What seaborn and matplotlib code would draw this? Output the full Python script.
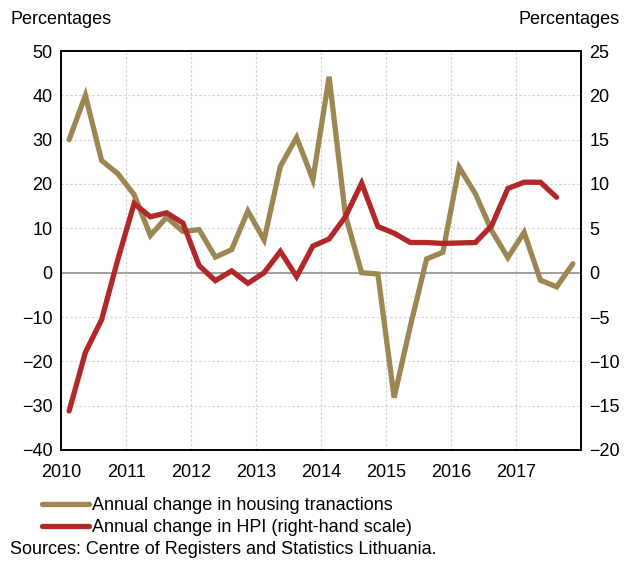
import matplotlib
matplotlib.use("Agg")
import matplotlib.pyplot as plt
import matplotlib.font_manager as fm
import numpy as np
import pandas as pd
import seaborn as sns

sns.set_theme(style="white")
names = {f.name for f in fm.fontManager.ttflist}
FONT = "Liberation Sans Narrow" if "Liberation Sans Narrow" in names else "Liberation Sans"
plt.rcParams["font.family"] = [FONT, "DejaVu Sans"]
plt.rcParams["text.color"] = "black"
plt.rcParams["xtick.color"] = "black"
plt.rcParams["ytick.color"] = "black"

# quarterly data, 2010 Q1 .. 2017 Q4
years = [2010, 2011, 2012, 2013, 2014, 2015, 2016, 2017]
quarters = [1, 2, 3, 4]

transactions = [30, 40, 25.3, 22.3,
                17.6, 8.4, 12.5, 9.3,
                9.7, 3.5, 5.2, 13.9,
                7.4, 24, 30.5, 21,
                44.2, 13, 0, -0.3,
                -28.2, -12, 3.1, 4.6,
                23.8, 17.8, 9.5, 3.4,
                9.1, -1.7, -3.2, 2.0]

hpi = [-15.6, -9.0, -5.3, 1.5,
       7.8, 6.3, 6.75, 5.6,
       0.8, -0.9, 0.2, -1.2,
       0.0, 2.4, -0.45, 3.0,
       3.8, 6.3, 10.1, 5.2,
       4.45, 3.4, 3.4, 3.3,
       3.35, 3.4, 5.3, 9.5,
       10.2, 10.2, 8.5, np.nan]

TAN = "#9C8652"
RED = "#B22828"

t = [y + (q - 0.5) / 4 for y in years for q in quarters]
df = pd.DataFrame({"t": t, "transactions": transactions, "hpi": hpi})

fig = plt.figure(figsize=(6.3, 5.66), dpi=100)
ax = fig.add_axes([61 / 630, 1 - 450 / 566, 520 / 630, 399 / 566])
ax2 = ax.twinx()

sns.lineplot(data=df, x="t", y="transactions", ax=ax, color=TAN, lw=3.8,
             solid_joinstyle="miter", label="Annual change in housing tranactions", legend=False)
sns.lineplot(data=df, x="t", y="hpi", ax=ax2, color=RED, lw=3.8,
             solid_joinstyle="miter", label="Annual change in HPI (right-hand scale)", legend=False)

ax.set_xlim(2010, 2018)
ax.set_ylim(-40, 50)
ax2.set_ylim(-20, 25)
ax.set_yticks(np.arange(-40, 51, 10))
ax2.set_yticks(np.arange(-20, 26, 5))
ax.set_xticks(years)
ax.set_xticklabels([str(y) for y in years])

ax.grid(True, color="#d0d0d0", ls=(0, (2, 2)), lw=0.8)
ax.axhline(0, color="#909090", lw=1.2, zorder=1)
ax.set_axisbelow(True)
ax2.grid(False)

for a in (ax, ax2):
    a.set_xlabel("")
    a.set_ylabel("")
    a.tick_params(length=0, labelsize=13, pad=6)
    for s in a.spines.values():
        s.set_color("black")
        s.set_linewidth(1.2)
ax.tick_params(axis="x", pad=10)

fig.text(10 / 630, 1 - 20 / 566, "Percentages", fontsize=13, va="center", ha="left")
fig.text(620 / 630, 1 - 20 / 566, "Percentages", fontsize=13, va="center", ha="right")

h1, l1 = ax.get_legend_handles_labels()
h2, l2 = ax2.get_legend_handles_labels()
fig.legend(h1 + h2, l1 + l2, loc="upper left", bbox_to_anchor=(42 / 630, 1 - 497 / 566),
           frameon=False, fontsize=13, handlelength=2.6, handletextpad=0.15,
           labelspacing=0.3, borderaxespad=0, borderpad=0)

fig.text(10 / 630, 1 - 550 / 566, "Sources: Centre of Registers and Statistics Lithuania.",
         fontsize=13, va="center", ha="left")

fig.savefig("out.png", dpi=100)
